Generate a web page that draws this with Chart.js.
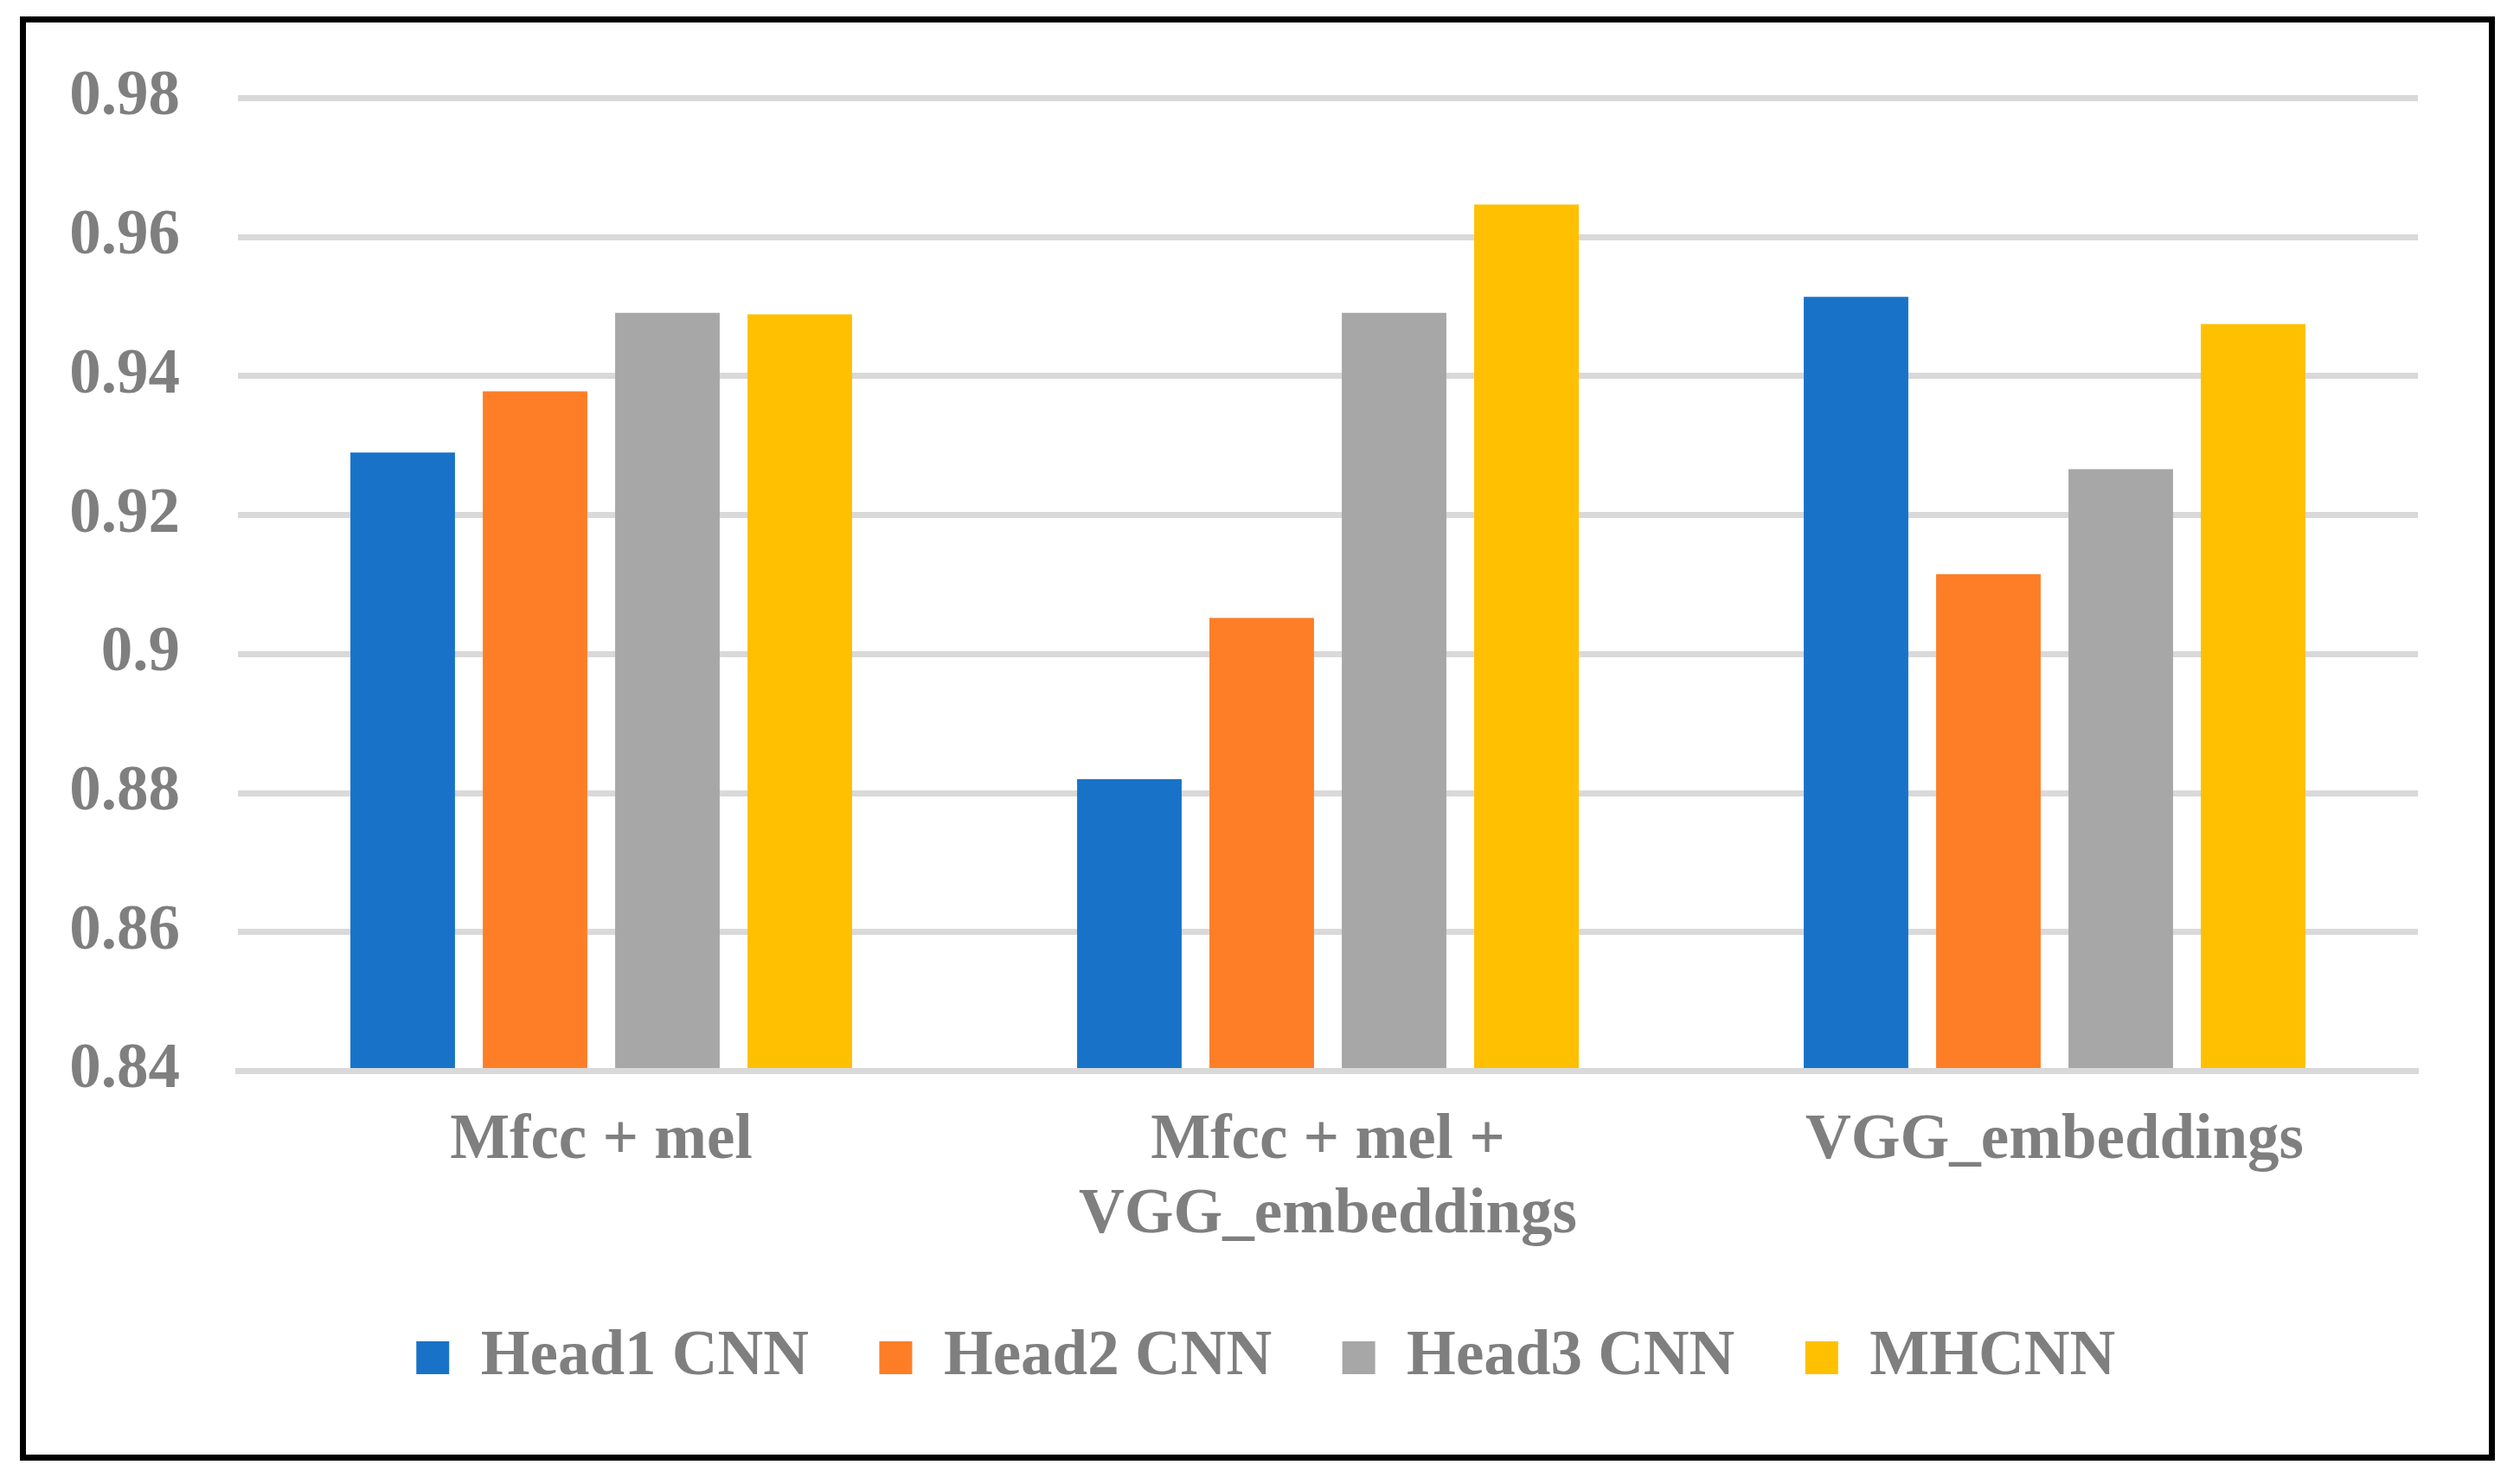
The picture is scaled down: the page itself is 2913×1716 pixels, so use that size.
<!DOCTYPE html>
<html>
<head>
<meta charset="utf-8">
<style>
  html, body { margin: 0; padding: 0; background: #ffffff; }
  #wrap { position: relative; width: 2913px; height: 1716px; }
  #frame { position: absolute; left: 23px; top: 19px; width: 2861px; height: 1670px;
           border: 7px solid #000; box-sizing: border-box; pointer-events: none; }
  canvas { position: absolute; left: 0; top: 0; }
</style>
<script src="https://cdn.jsdelivr.net/npm/chart.js@4"></script>
</head>
<body>
<div id="wrap">
  <canvas id="c" width="2913" height="1716"></canvas>
  <div id="frame"></div>
</div>
<script>
const categories = [["Mfcc + mel"], ["Mfcc + mel +", "VGG_embeddings"], ["VGG_embeddings"]];
const seriesNames = ["Head1 CNN", "Head2 CNN", "Head3 CNN", "MHCNN"];
const head1Values = [0.929, 0.882, 0.9514];
const head2Values = [0.9378, 0.9052, 0.9115];
const head3Values = [0.9491, 0.9491, 0.9266];
const mhcnnValues = [0.9489, 0.9647, 0.9475];
const yTickLabels = ["0.84", "0.86", "0.88", "0.9", "0.92", "0.94", "0.96", "0.98"];
const seriesColors = ["#1873C8", "#FE7E27", "#A7A7A7", "#FEC000"];

const textColor = "#7F7F7F";
const fontFamily = "'Liberation Serif', 'Times New Roman', serif";
const fontSize = 73;
const seriesValues = [head1Values, head2Values, head3Values, mhcnnValues];

const datasets = seriesNames.map((name, i) => ({
  label: name,
  data: seriesValues[i],
  backgroundColor: seriesColors[i],
  borderWidth: 0,
  categoryPercentage: 0.7286,
  barPercentage: 0.79
}));

const legendShift = {
  id: "legendShift",
  afterLayout(chart) {
    if (chart.legend) { chart.legend.left += 24.7; chart.legend.right += 24.7; }
  }
};

new Chart(document.getElementById("c"), {
  type: "bar",
  data: { labels: categories, datasets: datasets },
  plugins: [legendShift],
  options: {
    responsive: false,
    animation: false,
    devicePixelRatio: 1,
    layout: { padding: { left: 82, right: 118, top: 113.5, bottom: 99.5 } },
    plugins: {
      tooltip: { enabled: false },
      legend: {
        position: "bottom",
        labels: {
          color: textColor,
          font: { family: fontFamily, size: fontSize, weight: "bold" },
          boxWidth: 38,
          boxHeight: 38,
          padding: 81.5
        }
      }
    },
    scales: {
      x: {
        grid: { display: false, drawTicks: false },
        border: { display: true, color: "#D9D9D9", width: 7, z: 1 },
        ticks: {
          color: textColor,
          font: { family: fontFamily, size: fontSize, weight: "bold", lineHeight: 1.174 },
          padding: 39,
          maxRotation: 0,
          autoSkip: false
        },
        afterFit: (s) => { s.height = 213.5; }
      },
      y: {
        min: 0.84,
        max: 0.98,
        grid: { color: "#D9D9D9", lineWidth: 7, drawTicks: false },
        border: { display: false },
        ticks: {
          stepSize: 0.02,
          color: textColor,
          font: { family: fontFamily, size: fontSize, weight: "bold" },
          padding: 67,
          callback: (v, i) => yTickLabels[i]
        },
        afterFit: (s) => { s.width = 193; }
      }
    }
  }
});
</script>
</body>
</html>
